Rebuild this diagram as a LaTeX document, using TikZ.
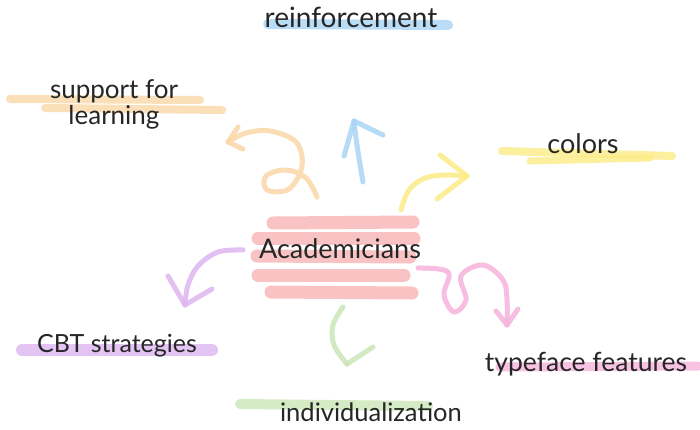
\documentclass[tikz,border=0pt]{standalone}
\usepackage{fontspec}
\setmainfont{Lato}
\begin{document}
\begin{tikzpicture}[x=1pt,y=-1pt,
  marker/.style={line width=#1, line cap=round, line join=round, opacity=0.8},
  marker/.default=9pt,
  pen/.style={line width=5pt, line cap=round, line join=round, opacity=0.85},
  lbl/.style={font=\fontsize{26}{28}\selectfont, text=black!85, inner sep=0pt}]
\definecolor{cOrange}{HTML}{FAD8A8}
\definecolor{cBlue}{HTML}{A9D5F6}
\definecolor{cYellow}{HTML}{FCEC86}
\definecolor{cSalmon}{HTML}{F8B4B4}
\definecolor{cPurple}{HTML}{DDB6EF}
\definecolor{cGreen}{HTML}{CBE6B7}
\definecolor{cPink}{HTML}{F7B3DD}
\useasboundingbox (0,0) rectangle (700,429);
\fill[white] (0,0) rectangle (700,429);

% marker strokes under the labels
\draw[marker=10pt, cBlue] (268,24) -- (448,25);
\draw[marker=8pt, cOrange] (10,99) -- (200,100);
\draw[marker=8pt, cOrange] (45,108) -- (222,110);
\draw[marker=8pt, cYellow] (502,151) -- (672,156);
\draw[marker=7pt, cYellow] (530,161) -- (650,158);
\draw[marker=13pt, cSalmon] (273,223) -- (413,222);
\draw[marker=13pt, cSalmon] (258,238) -- (414,238);
\draw[marker=13pt, cSalmon] (257,256) -- (410,257);
\draw[marker=13pt, cSalmon] (258,275) -- (404,275);
\draw[marker=13pt, cSalmon] (271,292) -- (412,293);
\draw[marker=12pt, cPurple] (22,350) -- (212,350);
\draw[marker=10pt, cGreen] (240,404) -- (428,406);
\draw[marker=9pt, cPink] (500,367) -- (698,366);

% labels
\node[lbl, font=\fontsize{28}{30}\selectfont] (reinf) at (351,17) {reinforcement};
\node[lbl, align=center, font=\fontsize{26}{26}\selectfont] (support) at (114,104) {support for\\learning};
\node[lbl, font=\fontsize{27}{29}\selectfont] (colors) at (583,144) {colors};
\node[lbl, font=\fontsize{27}{29}\selectfont] (acad) at (340,249) {Academicians};
\node[lbl, font=\fontsize{25}{27}\selectfont] (cbt) at (117,346) {CBT strategies};
\node[lbl, font=\fontsize{25.5}{27}\selectfont] (indiv) at (371,412) {individualization};
\node[lbl, font=\fontsize{26.5}{28}\selectfont] (type) at (586,364) {typeface features};

% hand-drawn arrows
\coordinate (oTip) at (228,142);
\draw[pen, cOrange] plot[smooth, tension=0.6] coordinates {(317,197) (306,178) (286,170) (266,176) (267,190) (289,189) (302,166) (296,142) (270,131) (246,133) (228,142)};
\draw[pen, cOrange] (238,127) -- (oTip) -- (243,149);

\coordinate (bTip) at (354,121);
\draw[pen, cBlue] plot[smooth, tension=0.6] coordinates {(363,182) (359,158) (356,138) (354,121)};
\draw[pen, cBlue] (344,156) -- (bTip) -- (383,135);

\coordinate (yTip) at (467,176);
\draw[pen, cYellow] plot[smooth, tension=0.6] coordinates {(401,210) (409,190) (425,178) (446,175) (467,176)};
\draw[pen, cYellow] (440,155) -- (yTip) -- (437,199);

\coordinate (pTip) at (185,305);
\draw[pen, cPurple] plot[smooth, tension=0.6] coordinates {(243,250) (218,252) (198,266) (188,285) (185,305)};
\draw[pen, cPurple] (168,276) -- (pTip) -- (212,289);

\coordinate (gTip) at (347,364);
\draw[pen, cGreen] plot[smooth, tension=0.6] coordinates {(343,307) (333,325) (334,345) (347,364)};
\draw[pen, cGreen] (373,347) -- (gTip);

\coordinate (kTip) at (507,325);
\draw[pen, cPink] plot[smooth, tension=0.6] coordinates {(418,268) (448,272) (444,295) (454,312) (466,300) (461,276) (483,265) (503,280) (507,300) (507,325)};
\draw[pen, cPink] (496,311) -- (kTip) -- (518,309);
\end{tikzpicture}
\end{document}
